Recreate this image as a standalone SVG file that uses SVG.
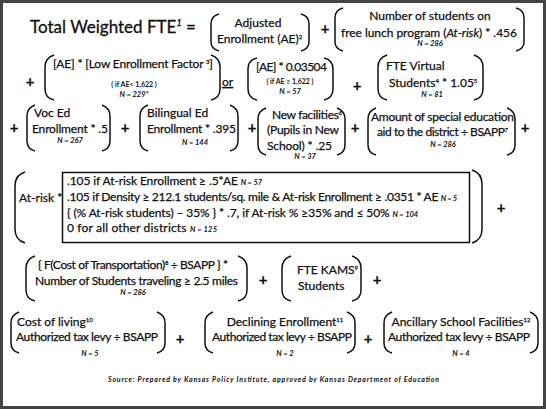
<svg xmlns="http://www.w3.org/2000/svg" width="546" height="410" viewBox="0 0 546 410">
<style>
text{font-family:Lato,"Open Sans","Liberation Sans",sans-serif;fill:#111;font-size:12px;stroke:#111;stroke-width:0.25}
.t{font-size:17px;stroke-width:0.3}
.n{font-size:7.5px;font-style:italic;font-weight:bold;stroke-width:0}
.s{font-size:6px}
.c{text-anchor:middle}
.sm{font-size:7px;font-weight:bold;stroke-width:0}
.p{fill:none;stroke:#111;stroke-width:1.5}
.plus{font-size:15px;font-weight:bold;text-anchor:middle}
.src{font-size:7px;font-style:italic;font-weight:bold;stroke-width:0}
</style>
<rect x="0" y="0" width="546" height="410" fill="#fff"/>
<rect x="1.5" y="1.5" width="543" height="406" fill="none" stroke="#444" stroke-width="3"/>
<g id="title"><text class="t" x="30" y="33">Total Weighted FTE<tspan font-size="9" font-style="italic" dy="-7">1</tspan><tspan dy="7"> =</tspan></text></g>
<g id="connectors">
<text class="plus" x="325" y="34">+</text>
<text class="plus" x="30" y="87">+</text>
<text x="222" y="86" font-size="14" text-decoration="underline">or</text>
<text class="plus" x="357" y="91">+</text>
<text class="plus" x="14" y="133">+</text>
<text class="plus" x="125" y="133">+</text>
<text class="plus" x="252" y="133">+</text>
<text class="plus" x="355" y="133">+</text>
<text class="plus" x="525" y="133">+</text>
<text class="plus" x="501" y="213">+</text>
<text class="plus" x="263" y="285">+</text>
<text class="plus" x="377" y="285">+</text>
<text class="plus" x="180" y="344">+</text>
<text class="plus" x="368" y="344">+</text>
</g>
<g id="ae">
<path class="p" d="M219,14 Q211,16 211,24 L211,42 Q211,49 219,51 M301,14 Q309,16 309,24 L309,42 Q309,49 301,51"/>
<text class="c" x="258" y="27">Adjusted</text>
<text x="217" y="43">Enrollment (AE)<tspan class="s" dy="-4">2</tspan></text>
</g>
<g id="atrisk-lunch">
<path class="p" d="M343,8 Q335,10 335,18 L335,42 Q335,49 343,51 M516,8 Q524,10 524,18 L524,42 Q524,49 516,51"/>
<text class="c" x="430" y="20">Number of students on</text>
<text x="341" y="37" textLength="176">free lunch program (<tspan font-style="italic">At-risk</tspan>) * .456</text>
<text class="n c" x="430" y="46">N = 286</text>
</g>
<g id="low-enroll">
<path class="p" d="M54,55 Q45,58 45,67 L45,89 Q45,98 54,100 M211,55 Q220,58 220,67 L220,89 Q220,98 211,100"/>
<text x="53" y="68" textLength="160">[AE] * [Low Enrollment Factor <tspan class="s" dy="-4">3</tspan><tspan dy="4">]</tspan></text>
<text class="sm c" x="134" y="87">( if AE&lt; 1,622 )</text>
<text class="n c" x="134" y="97">N = 229*</text>
</g>
<g id="high-enroll">
<path class="p" d="M257,58 Q248,60 248,69 L248,89 Q248,98 257,100 M324,58 Q333,60 333,69 L333,89 Q333,98 324,100"/>
<text x="256" y="71" textLength="71">[AE] * 0.03504</text>
<text class="sm c" x="290" y="84">( if AE ≥ 1,622 )</text>
<text class="n c" x="290" y="94">N = 57</text>
</g>
<g id="virtual">
<path class="p" d="M387,55 Q378,58 378,67 L378,89 Q378,98 387,100 M474,55 Q483,58 483,67 L483,89 Q483,98 474,100"/>
<text x="386" y="70">FTE Virtual</text>
<text x="389" y="87">Students<tspan class="s" dy="-4">4</tspan><tspan dy="4"> * 1.05</tspan><tspan class="s" dy="-4">5</tspan></text>
<text class="n c" x="432" y="97">N = 81</text>
</g>
<g id="voced">
<path class="p" d="M35,105 Q27,108 27,116 L27,141 Q27,149 35,151 M102,105 Q110,108 110,116 L110,141 Q110,149 102,151"/>
<text x="34" y="117">Voc Ed</text>
<text x="32" y="133" textLength="76">Enrollment * .5</text>
<text class="n c" x="70" y="143">N = 267</text>
</g>
<g id="bilingual">
<path class="p" d="M148,105 Q140,108 140,116 L140,141 Q140,149 148,151 M230,105 Q238,108 238,116 L238,141 Q238,149 230,151"/>
<text x="147" y="117">Bilingual Ed</text>
<text x="147" y="133" textLength="89">Enrollment * .395</text>
<text class="n c" x="195" y="145">N = 144</text>
</g>
<g id="newfac">
<path class="p" d="M266,108 Q258,111 258,119 L258,145 Q258,153 266,155 M337,108 Q345,111 345,119 L345,145 Q345,153 337,155"/>
<text x="272" y="119" textLength="70">New facilities<tspan class="s" dy="-4">6</tspan></text>
<text x="267" y="134" textLength="72">(Pupils in New</text>
<text x="267" y="150" textLength="65">School) * .25</text>
<text class="n c" x="305" y="159">N = 37</text>
</g>
<g id="speced">
<path class="p" d="M376,108 Q368,111 368,119 L368,145 Q368,153 376,155 M507,108 Q515,111 515,119 L515,145 Q515,153 507,155"/>
<text x="371" y="121" textLength="143">Amount of special education</text>
<text x="377" y="136" textLength="131">aid to the district ÷ BSAPP<tspan class="s" dy="-4">7</tspan></text>
<text class="n c" x="443" y="147">N = 286</text>
</g>
<g id="atrisk-weight">
<path class="p" d="M25,172 Q15,175 15,186 L15,229 Q15,240 25,243 M472,170 Q482,173 482,184 L482,229 Q482,240 472,243"/>
<text x="19" y="202">At-risk *</text>
<rect x="62.5" y="172.5" width="407" height="70" fill="none" stroke="#111" stroke-width="1.5"/>
<text x="67" y="185" textLength="195">.105 if At-risk Enrollment ≥ .5*AE <tspan class="n">N = 57</tspan></text>
<text x="67" y="201" textLength="390">.105 if Density ≥ 212.1 students/sq. mile &amp; At-risk Enrollment ≥ .0351 * AE  <tspan class="n">N = 5</tspan></text>
<text x="67" y="217" textLength="351">{ (% At-risk students) – 35% } * .7, if At-risk % ≥35% and ≤ 50% <tspan class="n">N = 104</tspan></text>
<text x="67" y="232" textLength="150">0 for all other districts <tspan class="n">N = 125</tspan></text>
</g>
<g id="transport">
<path class="p" d="M35,256 Q26,259 26,268 L26,290 Q26,299 35,301 M238,256 Q247,259 247,268 L247,290 Q247,299 238,301"/>
<text x="38" y="269" textLength="190">{ F(Cost of Transportation)<tspan class="s" dy="-4">8</tspan><tspan dy="4"> ÷ BSAPP } *</tspan></text>
<text x="35" y="285" textLength="203">Number of Students traveling ≥ 2.5 miles</text>
<text class="n c" x="133" y="295">N = 286</text>
</g>
<g id="kams">
<path class="p" d="M291,256 Q282,259 282,268 L282,290 Q282,299 291,301 M352,256 Q361,259 361,268 L361,290 Q361,299 352,301"/>
<text x="297" y="274">FTE KAMS<tspan class="s" dy="-4">9</tspan></text>
<text x="298" y="290">Students</text>
</g>
<g id="costliving">
<path class="p" d="M19,312 Q11,315 11,323 L11,343 Q11,351 19,353 M157,312 Q165,315 165,323 L165,343 Q165,351 157,353"/>
<text x="17" y="326">Cost of living<tspan class="s" dy="-4">10</tspan></text>
<text x="16" y="341" textLength="142">Authorized tax levy ÷ BSAPP</text>
<text class="n c" x="90" y="356">N = 5</text>
</g>
<g id="declining">
<path class="p" d="M213,312 Q205,315 205,323 L205,343 Q205,351 213,353 M347,312 Q355,315 355,323 L355,343 Q355,351 347,353"/>
<text class="c" x="285" y="326">Declining Enrollment<tspan class="s" dy="-4">11</tspan></text>
<text x="212" y="341" textLength="140">Authorized tax levy ÷ BSAPP</text>
<text class="n c" x="285" y="356">N = 2</text>
</g>
<g id="ancillary">
<path class="p" d="M392,312 Q384,315 384,323 L384,343 Q384,351 392,353 M530,312 Q538,315 538,323 L538,343 Q538,351 530,353"/>
<text class="c" x="461" y="326">Ancillary School Facilities<tspan class="s" dy="-4">12</tspan></text>
<text x="388" y="341" textLength="142">Authorized tax levy ÷ BSAPP</text>
<text class="n c" x="461" y="356">N = 4</text>
</g>
<g id="source"><text class="src" x="108" y="382" textLength="331">Source: Prepared by Kansas Policy Institute, approved by Kansas Department of Education</text></g>
</svg>
